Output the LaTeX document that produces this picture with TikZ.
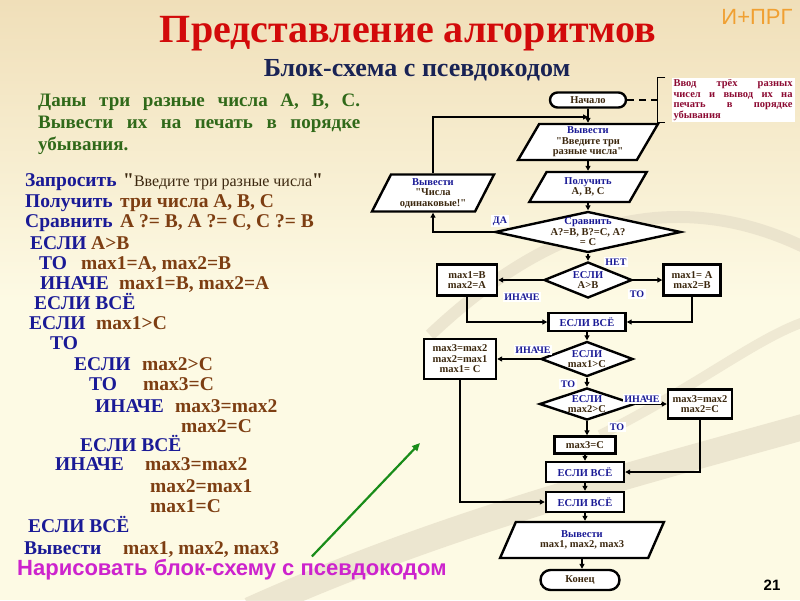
\documentclass[tikz,border=0pt]{standalone}
\usepackage{fontspec}
\setmainfont{Liberation Serif}[Ligatures=TeXOff]
\newfontfamily\sansf{Liberation Sans}
\usetikzlibrary{shapes.geometric,shapes.misc,arrows.meta}

\definecolor{kwblue}{RGB}{26,26,150}
\definecolor{valbrown}{RGB}{125,62,18}
\definecolor{fcdark}{RGB}{60,40,15}
\definecolor{taskgreen}{RGB}{48,105,25}
\definecolor{titlered}{RGB}{210,10,10}
\definecolor{subnavy}{RGB}{25,35,85}
\definecolor{notered}{RGB}{140,10,50}
\definecolor{tanbg}{RGB}{240,223,185}
\definecolor{creambg}{RGB}{253,250,228}
\definecolor{swoosh}{RGB}{230,222,200}
\definecolor{prgorange}{RGB}{240,160,50}
\definecolor{magentatxt}{RGB}{205,35,205}
\definecolor{arrowgreen}{RGB}{25,140,25}

\newcommand{\kw}[1]{\textcolor{kwblue}{#1}}
\newcommand{\vl}[1]{\textcolor{valbrown}{#1}}
\newcommand{\spreadline}[1]{\makebox[119pt][s]{#1}}

\tikzset{
  blk/.style={draw, line width=2.4pt, fill=white, inner sep=1pt, align=center,
    text=fcdark, font=\bfseries\fontsize{10.5}{10.5}\selectfont},
  term/.style={blk, rounded rectangle},
  io/.style={blk, trapezium, trapezium left angle=64, trapezium right angle=116,
    trapezium stretches=true},
  proc/.style={blk, rectangle},
  decide/.style={blk, diamond, aspect=2.6, inner sep=-3pt},
  yesno/.style={fill=white, inner sep=1.5pt, text=kwblue,
    font=\bfseries\fontsize{10}{10}\selectfont},
  flow/.style={line width=1.7pt, ->},
  code/.style={anchor=base west, inner sep=0pt, font=\bfseries\fontsize{19.5}{20}\selectfont},
}

\begin{document}
\begin{tikzpicture}[x=1pt, y=-1pt, >={Triangle[length=5pt,width=5pt]}]
    \useasboundingbox (0,0) rectangle (800,600);
    % slide background
    \fill[top color=tanbg, bottom color=creambg] (0,0) rectangle (800,300);
    \fill[creambg] (0,300) rectangle (800,600);
    \draw[swoosh, line width=26pt, opacity=.7] (250,610) .. controls (450,520) and (650,470) .. (810,425);
    \draw[swoosh, line width=12pt, opacity=.7] (430,335) .. controls (520,250) and (650,170) .. (810,250);
    \draw[swoosh, line width=10pt, opacity=.6] (600,435) .. controls (700,385) and (760,335) .. (810,320);

    % headings
    \node[font=\bfseries\fontsize{40}{40}\selectfont, text=titlered] (title) at (408,34) {Представление алгоритмов};
    \node[font=\bfseries\fontsize{26}{26}\selectfont, text=subnavy] (subtitle) at (417,70) {Блок-схема с псевдокодом};
    \node[font=\sansf\fontsize{22}{22}\selectfont, text=prgorange] (prg) at (757,17) {И+ПРГ};

    % task
    \node[anchor=north west, text width=322pt, align=justify, inner sep=0pt, text=taskgreen,
      font=\bfseries\fontsize{19}{22}\selectfont] (task) at (38,94)
      {Даны три разные числа А, В, С. Вывести их на печать в порядке убывания.};

    % pseudocode
    \node[code] (c1) at (25,186) {\makebox[98pt][l]{\kw{Запросить}}\textcolor{fcdark}{"{\mdseries\fontsize{16}{16}\selectfont Введите три разные числа}"}};
    \node[code] (c2) at (25,207) {\makebox[95pt][l]{\kw{Получить}}\vl{три числа А, В, С}};
    \node[code] (c3) at (25,227) {\makebox[95pt][l]{\kw{Сравнить}}\vl{А ?= В, А ?= С, С ?= В}};
    \node[code] (c4) at (30,249) {\makebox[61pt][l]{\kw{ЕСЛИ}}\vl{А>В}};
    \node[code] (c5) at (39,269) {\makebox[42pt][l]{\kw{ТО}}\vl{max1=A, max2=B}};
    \node[code] (c6) at (40,289) {\makebox[79pt][l]{\kw{ИНАЧЕ}}\vl{max1=B, max2=A}};
    \node[code] (c7) at (34,309) {\kw{ЕСЛИ ВСЁ}};
    \node[code] (c8) at (29,329) {\makebox[67pt][l]{\kw{ЕСЛИ}}\vl{max1>C}};
    \node[code] (c9) at (50,349) {\kw{ТО}};
    \node[code] (c10) at (74,370) {\makebox[68pt][l]{\kw{ЕСЛИ}}\vl{max2>C}};
    \node[code] (c11) at (89,390) {\makebox[54pt][l]{\kw{ТО}}\vl{max3=C}};
    \node[code] (c12) at (95,412) {\makebox[80pt][l]{\kw{ИНАЧЕ}}\vl{max3=max2}};
    \node[code] (c13) at (181,432) {\vl{max2=C}};
    \node[code] (c14) at (80,451) {\kw{ЕСЛИ ВСЁ}};
    \node[code] (c15) at (55,470) {\makebox[90pt][l]{\kw{ИНАЧЕ}}\vl{max3=max2}};
    \node[code] (c16) at (150,492) {\vl{max2=max1}};
    \node[code] (c17) at (150,512) {\vl{max1=C}};
    \node[code] (c18) at (28,532) {\kw{ЕСЛИ ВСЁ}};
    \node[code] (c19) at (24,554) {\makebox[99pt][l]{\kw{Вывести}}\vl{max1, max2, max3}};

    \node[anchor=west, inner sep=0pt, text=magentatxt, font=\sansf\bfseries\fontsize{22}{22}\selectfont] (hint) at (17,570) {Нарисовать блок-схему с псевдокодом};
    \coordinate (gtip) at (420,443);
    \draw[arrowgreen, line width=2.2pt, -{Triangle[length=8pt,width=7pt]}] ([xshift=80pt,yshift=3pt]hint.north) -- (gtip);

    % flowchart
    \node[term, minimum width=78pt, minimum height=15pt] (start) at (588,100) {Начало};
    \node[io, minimum width=140pt, minimum height=36pt] (ask) at (588,142) {\kw{Вывести}\\"Введите три\\разные числа"};
    \node[io, minimum width=118pt, minimum height=30pt] (get) at (588,187) {\kw{Получить}\\А, В, С};
    \node[decide, aspect=4.5, inner sep=-5pt, minimum width=186pt, minimum height=41pt] (cmp) at (588,232) {\kw{Сравнить}\\А?=В, В?=С, А?\\= С};
    \node[io, minimum width=123pt, minimum height=37pt] (same) at (433,193) {\kw{Вывести}\\"Числа\\одинаковые!"};
    \node[decide, minimum width=88pt, minimum height=36pt] (ifab) at (588,280) {\kw{ЕСЛИ}\\А>В};
    \node[proc, minimum width=60pt, minimum height=31pt] (ab1) at (467,280) {max1=B\\max2=A};
    \node[proc, minimum width=57pt, minimum height=31pt] (ab2) at (692,280) {max1= A\\max2=B};
    \node[proc, text=kwblue, minimum width=77pt, minimum height=18pt] (fi1) at (587,322) {ЕСЛИ ВСЁ};
    \node[decide, minimum width=92pt, minimum height=35pt] (ifm1) at (587,359) {\kw{ЕСЛИ}\\max1>C};
    \node[proc, minimum width=72pt, minimum height=40pt] (m1no) at (460,359) {max3=max2\\max2=max1\\max1= C};
    \node[decide, minimum width=95pt, minimum height=32pt] (ifm2) at (587,404) {\kw{ЕСЛИ}\\max2>C};
    \node[proc, minimum width=64pt, minimum height=29pt] (m2no) at (700,404) {max3=max2\\max2=C};
    \node[proc, minimum width=61pt, minimum height=17pt] (m2yes) at (585,445) {max3=C};
    \node[proc, text=kwblue, minimum width=78pt, minimum height=20pt] (fi2) at (585,472) {ЕСЛИ ВСЁ};
    \node[proc, text=kwblue, minimum width=78pt, minimum height=20pt] (fi3) at (585,502) {ЕСЛИ ВСЁ};
    \node[io, minimum width=164pt, minimum height=36pt] (outp) at (582,540) {\kw{Вывести}\\max1, max2, max3};
    \node[term, minimum width=81pt, minimum height=20pt] (stop) at (580,580) {Конец};

    % comment to the start block
    \node[fill=white, inner sep=2pt, align=left, text=notered,
      font=\bfseries\fontsize{10.5}{10.5}\selectfont] (note) at (733,100)
      {\spreadline{Ввод трёх разных}\\\spreadline{чисел и вывод их на}\\\spreadline{печать в порядке}\\убывания};
    \draw[line width=1.6pt] ([xshift=-6pt]note.north west) -- ([xshift=-14pt]note.north west)
      -- ([xshift=-14pt]note.south west) -- ([xshift=-6pt]note.south west);
    \draw[line width=1.4pt, dash pattern=on 7pt off 5pt] (start.east) -- ([xshift=-14pt]note.west);

    % connectors
    \coordinate (loopin) at (588,117);
    \draw[flow] (start.south) -- (ask.north);
    \draw[flow] (ask.south) -- (get.north);
    \draw[flow] (get.south) -- (cmp.north);
    \draw[flow] (cmp.south) -- (ifab.north);
    \draw[flow] (cmp.west) -| (same.south);
    \draw[flow] (same.north) |- (loopin);
    \draw[flow] (ifab.west) -- (ab1.east);
    \draw[flow] (ifab.east) -- (ab2.west);
    \draw[flow] (ab1.south) |- (fi1.west);
    \draw[flow] (ab2.south) |- (fi1.east);
    \draw[flow] (fi1.south) -- (ifm1.north);
    \draw[flow] (ifm1.west) -- (m1no.east);
    \draw[flow] (ifm1.south) -- (ifm2.north);
    \draw[flow] (ifm2.east) -- (m2no.west);
    \draw[flow] (ifm2.south) -- (ifm2.south |- m2yes.north);
    \draw[flow] (m2yes.south) -- (fi2.north);
    \draw[flow] (m2no.south) |- (fi2.east);
    \draw[flow] (fi2.south) -- (fi3.north);
    \draw[flow] (m1no.south) |- (fi3.west);
    \draw[flow] (fi3.south) -- (fi3.south |- outp.north);
    \draw[flow] (outp.south) -- (outp.south |- stop.north);

    % branch labels
    \node[yesno] (yes0) at (500,221) {ДА};
    \node[yesno] (no0) at (616,262) {НЕТ};
    \node[yesno] (else1) at (522,297) {ИНАЧЕ};
    \node[yesno] (then1) at (637,294) {ТО};
    \node[yesno] (else2) at (533,350) {ИНАЧЕ};
    \node[yesno] (then2) at (568,384) {ТО};
    \node[yesno] (else3) at (642,399) {ИНАЧЕ};
    \node[yesno] (then3) at (617,427) {ТО};

    \node[font=\sansf\bfseries\fontsize{15}{15}\selectfont] (pnum) at (772,585) {21};
\end{tikzpicture}
\end{document}
